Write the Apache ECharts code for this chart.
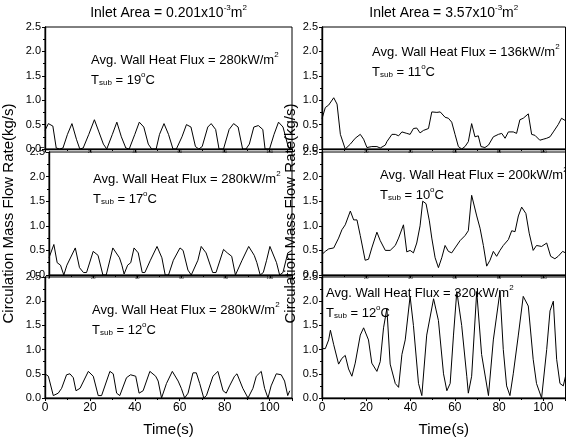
<!DOCTYPE html>
<html>
<head>
<meta charset="utf-8">
<script src="https://cdn.jsdelivr.net/npm/echarts@6/dist/echarts.min.js"></script>
<style>
  body { margin: 0; background: #fff; }
  #chart { width: 566px; height: 438px; }
</style>
</head>
<body>
<div id="chart"></div>
<script>
// circulation mass flow rate (kg/s) vs time (s)
const leftTop = [[0,0.38],[1.5,0.52],[3.5,0.47],[5,0.02],[6.5,0],[8,0.02],[10,0.3],[12,0.52],[14,0.2],[15.5,0],[17,0.02],[19.5,0.3],[22,0.6],[24,0.35],[26,0.1],[27.5,0],[30,0.3],[32,0.55],[34,0.25],[36,0.02],[37.5,0],[40,0.3],[42,0.55],[44,0.45],[46,0.1],[47.5,0],[49.5,0],[51,0.3],[53,0.52],[55,0.3],[57,0],[58.5,0],[61,0.25],[63,0.5],[65,0.45],[67,0.05],[68.5,0],[70,0.05],[72.5,0.45],[74,0.52],[76,0.4],[77.5,0],[79.5,0],[82,0.4],[84,0.52],[86,0.45],[88,0],[89.5,0],[91,0.1],[93,0.45],[95,0.48],[97,0.4],[98,0],[100,0],[102,0.3],[104,0.55],[106,0.45],[108,0.1],[109,0],[110,0]]
const leftMid = [[0,0.35],[2.2,0.62],[3.7,0.25],[5.2,0.2],[6.7,0],[8.1,0.2],[11.9,0.55],[13.8,0.15],[15.6,0.05],[17,0.05],[20,0.48],[22.2,0.4],[24.4,0],[25.9,0],[28.9,0.55],[31.9,0.35],[33,0.2],[34,0.02],[35.6,0.2],[37,0.25],[38.5,0.55],[40.4,0.45],[42.2,0.05],[43.4,0.05],[45.9,0.3],[48.9,0.58],[51.1,0.35],[52.6,0],[54.1,0],[56.3,0.3],[59.3,0.55],[60.7,0.5],[62.9,0.1],[64.4,0],[67.4,0.3],[68.9,0.58],[71.1,0.45],[74.1,0.05],[75.6,0.05],[79,0.52],[80.7,0.45],[82.7,0.38],[84.4,0],[87.4,0.3],[90.4,0.58],[92.9,0.4],[94.1,0.25],[95.6,0],[97,0.05],[98.5,0.3],[100,0.58],[103,0.25],[104.4,0],[105.9,0.05],[108.1,0.45],[110,0.5]]
const leftBot = [[0,0.5],[1.5,0.45],[3.7,0.05],[5.9,0.1],[7.4,0.2],[9.6,0.48],[11.1,0.5],[12.6,0.42],[13.8,0.15],[15.6,0.2],[19.3,0.55],[21.5,0.45],[23.7,0.05],[25.2,0.05],[28.9,0.55],[30.4,0.5],[31.9,0.1],[33.3,0.05],[36.3,0.42],[38.1,0.48],[40.4,0.45],[41.9,0.1],[43.7,0.15],[46.7,0.55],[49.3,0.45],[50.4,0.35],[51.9,0],[54.1,0.3],[56.7,0.55],[59.3,0.35],[60.7,0.2],[62.2,0],[63.7,0.1],[65.9,0.52],[67.4,0.52],[68.9,0.3],[70.7,0],[71.9,0.05],[74.8,0.45],[77,0.55],[79.3,0.15],[80.7,0.1],[82.2,0.25],[84.4,0.45],[85.5,0.5],[88.1,0.2],[90.4,0],[92.6,0.2],[94.1,0.45],[96.3,0.55],[97.8,0.2],[99.3,0],[100.7,0.25],[103,0.5],[105.2,0.48],[106.7,0.35],[108.1,0.05],[109,0.15]]
const rightTop = [[0,0.62],[1.5,0.85],[3,0.9],[5.3,1.05],[6.8,0.92],[8.3,0.3],[10.5,0],[12.8,0.1],[15,0.22],[17.3,0.3],[18.8,0.2],[20.3,0.03],[22.5,0.05],[24.8,0.05],[26.3,0.02],[28.6,0.08],[29.3,0.15],[31.6,0.3],[33.1,0.3],[34.6,0.27],[36.1,0.35],[38.3,0.32],[39.8,0.3],[41.3,0.42],[42.8,0.43],[44.3,0.33],[45.8,0.38],[48.1,0.42],[49.6,0.76],[51.9,0.75],[53.4,0.76],[55.6,0.65],[57.1,0.63],[58.6,0.55],[60.1,0.3],[61.6,0.05],[63.1,0],[64.6,0.05],[66.1,0.15],[67.6,0.52],[69.1,0.25],[70.6,0.27],[71.8,0.05],[73.6,0.03],[75.2,0.08],[77.4,0.25],[79.7,0.3],[81.2,0.32],[82.7,0.22],[84.2,0.35],[86.4,0.35],[87.9,0.32],[89.4,0.6],[90.9,0.63],[93.2,0.72],[94.7,0.3],[96.2,0.28],[98.4,0.18],[99.9,0.2],[101.5,0.22],[103,0.25],[104.5,0.35],[106.7,0.5],[108.2,0.63],[110,0.58]]
const rightMid = [[0,0.42],[1.5,0.48],[3,0.53],[5.3,0.55],[7.5,0.75],[9,0.92],[10.5,1.02],[12.8,1.3],[14.3,1.12],[15.8,1.12],[17.3,0.8],[19.5,0.3],[21,0.32],[22.5,0.55],[24.8,0.87],[26.3,0.7],[28.6,0.5],[30.8,0.5],[33.1,0.6],[34.6,0.75],[35.3,0.72],[36.8,1.02],[38.3,0.47],[39.8,0.5],[41.3,0.45],[42.8,0.65],[44.3,1.0],[45.5,1.5],[47,1.45],[48.5,1.1],[49.6,0.75],[51.1,0.35],[52.6,0.15],[54.1,0.35],[55.6,0.6],[57.1,0.48],[58.6,0.45],[60.1,0.55],[62.4,0.7],[64.6,0.8],[66.1,0.9],[67.6,1.62],[69.9,1.2],[71.4,0.95],[72.9,0.6],[74.4,0.18],[75.9,0.3],[77.4,0.48],[78.9,0.38],[80.4,0.5],[81.9,0.6],[84.2,0.72],[85.7,0.9],[87.2,0.88],[88.7,1.2],[90.2,1.38],[92.1,1.25],[93.6,0.85],[95.4,0.5],[96.9,0.6],[99.2,0.58],[101.5,0.65],[103.3,0.38],[105.2,0.33],[106.7,0.38],[108.7,0.48],[110,0.45]]
const rightBot = [[0,1.02],[1.5,1.02],[3,1.2],[3.8,1.4],[5.3,1.1],[7.5,0.7],[9,0.82],[10.5,0.88],[12,0.6],[13.5,0.45],[15,0.72],[17.3,1.3],[18.8,1.45],[21,1.2],[22.5,0.72],[24.8,0.55],[26.3,0.75],[27.8,1.45],[29.3,1.85],[30.8,0.7],[33.1,0.3],[34.6,0.22],[36.1,0.9],[37.6,1.2],[39.8,2.1],[41.3,1.5],[43.6,0.3],[45.1,0.05],[47.3,1.3],[50.4,2.05],[52.6,1.6],[54.9,0.5],[56.4,0.15],[57.9,0.3],[59.4,1.3],[60.9,2.2],[63.1,1.5],[65.4,0.45],[66.1,0.1],[67.6,0.45],[69.9,2.2],[72.1,0.9],[75.2,0.05],[77.4,1.2],[80.4,2.2],[81.9,1.0],[83.4,0.25],[84.9,0.05],[86.4,0.5],[88.7,1.3],[90.9,2.1],[93.2,1.9],[95.4,0.8],[96.9,0.3],[99.2,0],[101.5,1.0],[103,1.8],[104.5,2.0],[106,0.8],[107.5,0.3],[109,0.25],[110,0.45]]

const panelData = [leftTop, rightTop, leftMid, rightMid, leftBot, rightBot]
const fluxLabels = ['280', '136', '280', '200', '280', '320']
const tsubLabels = ['19', '11', '17', '10', '12', '12']
const inletLabels = ['0.201', '3.57']

const FONT = 'Liberation Sans, Arial, sans-serif'
const colLeft = [45, 322]
const colWidth = [247, 243.5]
const rowTop = [27, 152, 277]
const rowHeight = [122, 123, 124]
// annotation anchor (left, first line center) per panel
const notePos = [[91, 60], [372, 52], [93, 179], [380, 175], [92, 310], [326, 293]]

// superscript raised / subscript lowered via padding inside a middle-aligned token
const richStyles = {
  sup: { fontSize: 8, lineHeight: 8, padding: [0, 0, 10, 0], fontFamily: FONT, fill: '#000' },
  sub: { fontSize: 8, lineHeight: 8, padding: [5, 0, 0, 0], fontFamily: FONT, fill: '#000' }
}

function noteText(x, y, text, size, align) {
  return {
    type: 'text', x: x, y: y, z: 100,
    style: {
      text: text, fontSize: size, lineHeight: size + 1, fontFamily: FONT, fill: '#000',
      align: align || 'left', verticalAlign: 'middle', rich: richStyles
    }
  }
}

const grids = [], xAxes = [], yAxes = [], series = [], graphics = []
panelData.forEach((d, i) => {
  const col = i % 2, row = Math.floor(i / 2)
  const bottom = row === 2
  grids.push({
    left: colLeft[col], top: rowTop[row], width: colWidth[col], height: rowHeight[row],
    show: true, borderColor: '#000', borderWidth: 1, backgroundColor: 'transparent'
  })
  xAxes.push({
    type: 'value', gridIndex: i, min: 0, max: 110, interval: 20,
    axisLine: { lineStyle: { color: '#000', width: 1.4 } },
    axisTick: { length: 3, lineStyle: { color: '#000' } },
    minorTick: { show: true, splitNumber: 2, length: 2, lineStyle: { color: '#000' } },
    splitLine: { show: false },
    axisLabel: bottom
      ? { fontSize: 12, color: '#000', fontFamily: FONT, margin: 4, showMaxLabel: false }
      : { fontSize: 4, color: '#000', fontFamily: FONT, margin: 1, showMaxLabel: false },
    name: bottom ? 'Time(s)' : '', nameLocation: 'middle', nameGap: 24,
    nameTextStyle: { fontSize: 15, color: '#000', fontFamily: FONT }
  })
  yAxes.push({
    type: 'value', gridIndex: i, min: 0, max: 2.5, interval: 0.5,
    axisLine: { show: true, lineStyle: { color: '#000', width: 1.4 } },
    axisTick: { length: 3, lineStyle: { color: '#000' } },
    minorTick: { show: true, splitNumber: 2, length: 2, lineStyle: { color: '#000' } },
    splitLine: { show: false },
    axisLabel: { fontSize: 11, color: '#000', fontFamily: FONT, margin: 4, formatter: v => v.toFixed(1) },
    name: row === 1 ? 'Circulation Mass Flow Rate(kg/s)' : '',
    nameLocation: 'middle', nameGap: col === 0 ? 33 : 23,
    nameTextStyle: { fontSize: 15, color: '#000', fontFamily: FONT }
  })
  series.push({
    type: 'line', xAxisIndex: i, yAxisIndex: i, data: d,
    symbol: 'none', lineStyle: { color: '#000', width: 1 }, silent: true
  })
  graphics.push(noteText(notePos[i][0], notePos[i][1],
    'Avg. Wall Heat Flux = ' + fluxLabels[i] + 'kW/m{sup|2}', 13))
  graphics.push(noteText(notePos[i][0], notePos[i][1] + 20,
    'T{sub|sub} = ' + tsubLabels[i] + '{sup|o}C', 13))
})

inletLabels.forEach((s, c) => {
  graphics.push(noteText(colLeft[c] + colWidth[c] / 2, 13,
    'Inlet Area = ' + s + 'x10{sup|-3}m{sup|2}', 14, 'center'))
})

const chart = echarts.init(document.getElementById('chart'))
chart.setOption({
  animation: false,
  backgroundColor: '#fff',
  grid: grids,
  xAxis: xAxes,
  yAxis: yAxes,
  series: series,
  graphic: graphics
})
</script>
</body>
</html>
